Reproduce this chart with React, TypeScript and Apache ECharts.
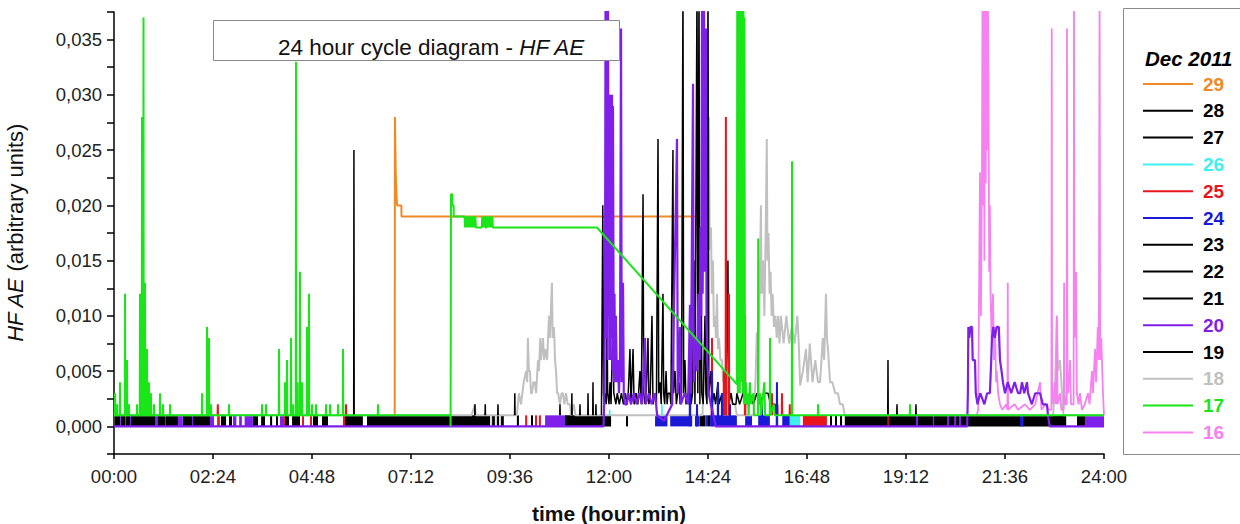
import React, { useEffect, useRef } from "react";
import * as echarts from "echarts";

const FONT = "'Liberation Sans', Arial, Helvetica, sans-serif";

// Legend (days of Dec 2011) and colours
const DAYS = ["29", "28", "27", "26", "25", "24", "23", "22", "21", "20", "19", "18", "17", "16"];
const DAY_COLORS: Record<string, string> = {
  "29": "#F08A24", "28": "#000000", "27": "#000000", "26": "#3FF0F0", "25": "#E8161C",
  "24": "#1A1AD6", "23": "#000000", "22": "#000000", "21": "#000000", "20": "#7F1FEA",
  "19": "#000000", "18": "#C0C0C0", "17": "#19E619", "16": "#F582F0",
};

// time axis in minutes since 00:00
const X_MIN = 0;
const X_MAX = 1440;
const X_STEP = 144;
const Y_MIN = -0.0025;
const Y_MAX = 0.0375;
const Y_STEP = 0.0025;

// ---- band intervals (value 0 .. 0.001), [startMin, endMin]
const BAND_28: [number, number][] = [
  [1.5, 8.7], [10, 16], [17.5, 23.3], [24.7, 59.6], [64, 93], [100, 139.6], [155.6, 163], [167.3, 171.6],
  [202, 209.5], [214, 219.6], [227, 230], [235.6, 238.5], [248.7, 254.5], [259, 270.5], [289.5, 296.7],
  [302.5, 311.3], [336, 362], [368, 547], [550, 554], [557, 560], [563, 567], [586, 589], [606.5, 609.5],
  [656, 723], [744.7, 747.6], [852.4, 859.6], [864, 867], [1041.5, 1044.4], [1048.7, 1051.6], [1056, 1059],
  [1063, 1385], [1400.7, 1412.3],
];
const BAND_20: [number, number][] = [
  [8.7, 10], [16, 17.5], [23.3, 24.7], [59.6, 64], [74, 75.5], [93, 100], [113.5, 115], [139.6, 145.5],
  [173, 178], [182, 186], [190, 202], [241.5, 247], [627, 656], [1166.5, 1169.5], [1191, 1193],
  [1211.6, 1214.5], [1222, 1225], [1229, 1232], [1412.3, 1441],
];
const BAND_25: [number, number][] = [
  [150, 154], [246, 248.7], [273.5, 276.4], [285, 288], [333, 336], [598, 601], [612.4, 615.3],
  [618, 621], [1002, 1037], [1125, 1127],
];
const BAND_24: [number, number][] = [
  [787, 805], [809, 841], [845, 852], [860, 864], [867, 906], [918, 928], [937, 954], [972, 983], [1318, 1323],
];
const BAND_26: [number, number][] = [[983, 998]];
const BAND_18: [number, number][] = [[548, 549.5], [555, 556.5], [561, 562.5]];

// ---- series values [minute, value]
const ORANGE_29: [number, number][] = [
  [408.3, 0.001], [408.6, 0.028], [409.6, 0.028], [409.8, 0.023], [410.6, 0.023], [410.8, 0.021],
  [411.6, 0.021], [411.8, 0.02], [418, 0.02], [418.2, 0.019], [845, 0.019],
];

const GREEN_17_EARLY: [number, number][] = [
  [1.5, 0.003], [4.4, 0.002], [8.7, 0.004], [16, 0.012], [18.9, 0.006], [21.8, 0.002], [33.5, 0.002],
  [37.8, 0.012], [40.7, 0.028], [42.9, 0.037], [45.1, 0.013], [48, 0.007], [50.9, 0.004], [53.8, 0.003],
  [58.2, 0.002], [66.9, 0.003], [71.3, 0.002], [81.5, 0.002], [128, 0.003], [135.3, 0.009], [138.2, 0.008],
  [141.1, 0.002], [167.3, 0.002], [215.3, 0.002], [221.1, 0.002], [240, 0.007], [248.7, 0.004],
  [251.6, 0.006], [257.5, 0.008], [260.4, 0.002], [264.7, 0.033], [266.9, 0.004], [270.5, 0.014],
  [273.5, 0.004], [280.7, 0.009], [283.6, 0.012], [288, 0.002], [293.8, 0.002], [308.4, 0.002],
  [314.2, 0.002], [325.8, 0.002], [333.1, 0.007], [384, 0.002],
];
const GREEN_17_MID: [number, number][] = [
  [489.4, 0.001], [489.6, 0], [490, 0], [490.2, 0.021], [492, 0.021], [492.2, 0.02], [494, 0.02],
  [494.2, 0.019], [510, 0.019], [510.5, 0.018], [511.5, 0.019], [512.5, 0.018], [513.5, 0.019],
  [514.5, 0.018], [515.5, 0.019], [516.5, 0.018], [517.5, 0.019], [518.5, 0.018], [519.5, 0.019],
  [520.5, 0.018], [521.5, 0.019], [522.5, 0.018], [523.5, 0.019], [524.5, 0.018], [525.5, 0.019],
  [526.5, 0.018], [535, 0.018], [535.5, 0.019], [536.5, 0.018], [537.5, 0.019], [538.5, 0.018],
  [539.5, 0.019], [540.5, 0.018], [542, 0.018], [542.5, 0.019], [543.5, 0.018], [544.5, 0.019],
  [545.5, 0.018], [546.5, 0.019], [547.5, 0.018], [548.5, 0.019], [549.5, 0.018], [550.5, 0.019],
  [551, 0.018], [702.5, 0.018], [906, 0.0038],
];
const GREEN_17_LATE: [number, number][] = [
  [906.5, 0.04], [907.3, 0.003], [908, 0.04], [908.8, 0.004], [909.5, 0.04], [910.3, 0.003], [911, 0.04],
  [911.8, 0.005], [912.5, 0.04], [913.3, 0.004], [914, 0.04], [914.8, 0.003], [915.5, 0.04], [916.3, 0.002],
  [917, 0.037], [917.8, 0.002], [919, 0.004], [920, 0.002], [922, 0.003], [923, 0.001], [925, 0.004],
  [926, 0.002], [930, 0.003], [931, 0.001], [936.6, 0.001], [937, 0.017], [937.4, 0.002], [940, 0.003],
  [941, 0.001], [946, 0.004], [947, 0.001], [953.8, 0.001], [954.2, 0.008], [954.6, 0.001], [960, 0.002],
  [961, 0.001], [985.9, 0.001], [986.2, 0.024], [986.5, 0.001], [1023.8, 0.001], [1024.1, 0.002],
  [1024.4, 0.001], [1157.5, 0.001], [1157.8, 0.002], [1158.1, 0.001], [1440, 0.001],
];

const GRAY_18: [number, number][] = [
  [0, 0.001], [520, 0.001], [525, 0.002], [526, 0.001], [586, 0.001], [589, 0.003], [592, 0.002],
  [596, 0.004], [599.3, 0.005], [601, 0.004], [602, 0.008], [603.5, 0.005], [605, 0.005], [606.5, 0.003],
  [608, 0.003], [610, 0.004], [612, 0.004], [614, 0.003], [616.7, 0.006], [618, 0.005], [620, 0.008],
  [621, 0.006], [624, 0.008], [625.5, 0.006], [628, 0.007], [630, 0.006], [632.7, 0.01], [634, 0.008],
  [637, 0.013], [638, 0.008], [640, 0.009], [641.5, 0.006], [643, 0.005], [644.5, 0.003], [646, 0.003],
  [648.7, 0.002], [651, 0.003], [653, 0.003], [655, 0.002], [657.5, 0.003], [660, 0.002], [663, 0.002],
  [665, 0.001], [669, 0.002], [671, 0.001], [856, 0.001], [859.6, 0.008], [861, 0.006], [862.5, 0.022],
  [863.5, 0.014], [865.5, 0.028], [866.5, 0.016], [868.4, 0.018], [869.5, 0.012], [871.3, 0.015],
  [872.5, 0.009], [874.2, 0.01], [875.5, 0.008], [877.1, 0.012], [878.5, 0.007], [880, 0.008],
  [882, 0.006], [884.4, 0.006], [886, 0.004], [888.8, 0.004], [892, 0.003], [896, 0.003], [900, 0.002],
  [903.3, 0.002], [906, 0.001], [930, 0.001], [933, 0.004], [935, 0.0085], [937, 0.006], [939, 0.012],
  [941, 0.02], [942, 0.012], [944, 0.015], [946, 0.01], [948, 0.018], [949.5, 0.026], [950.5, 0.015],
  [952, 0.0175], [953.5, 0.012], [955, 0.014], [956.5, 0.01], [958, 0.012], [960, 0.009], [962, 0.01],
  [964, 0.008], [966, 0.01], [968, 0.0075], [970, 0.01], [974, 0.0075], [978, 0.01], [982, 0.0075],
  [986, 0.009], [990, 0.0075], [994, 0.01], [996, 0.0075], [998, 0.0037], [1002, 0.005], [1006.5, 0.007],
  [1009, 0.004], [1012, 0.0075], [1016, 0.004], [1020, 0.006], [1024, 0.004], [1027, 0.004], [1031, 0.008],
  [1033, 0.006], [1035.6, 0.012], [1037, 0.008], [1038.5, 0.007], [1041.5, 0.004], [1045, 0.004],
  [1049, 0.003], [1053, 0.003], [1056, 0.002], [1060, 0.002], [1063, 0.001], [1366, 0.001], [1369, 0.004],
  [1371.6, 0.01], [1373, 0.005], [1376, 0.006], [1379, 0.003], [1381, 0.001], [1440, 0.001],
];

const BLACK_27: [number, number][] = [
  [709, 0.001], [711, 0.02], [712, 0.003], [713, 0.002], [714, 0.003], [716, 0.002], [717, 0.012],
  [718, 0.003], [720, 0.002], [721.5, 0.004], [723, 0.002], [725.8, 0.01], [727, 0.003], [730, 0.002],
  [732, 0.003], [735, 0.002], [738, 0.003], [741, 0.002], [744, 0.003], [746, 0.002], [748, 0.003],
  [750.5, 0.007], [752, 0.002], [755, 0.007], [756.5, 0.002], [759.3, 0.003], [762, 0.002], [765, 0.005],
  [767, 0.002], [769.5, 0.021], [770.5, 0.003], [772.4, 0.002], [774, 0.003], [776.7, 0.008], [778, 0.002],
  [780, 0.003], [782.5, 0.01], [784, 0.002], [787, 0.003], [789, 0.002], [791.3, 0.026], [792.3, 0.003],
  [794.2, 0.004], [796, 0.002], [798.5, 0.012], [799.5, 0.003], [801, 0.002], [803, 0.005], [804.5, 0.002],
  [806, 0.003], [808.7, 0.003], [810, 0.002], [813, 0.025], [814, 0.003], [816, 0.005], [818, 0.002],
  [821.8, 0.004], [823.5, 0.002], [825.5, 0.003], [827.6, 0.04], [828.6, 0.003], [830.5, 0.006],
  [832, 0.002], [834.9, 0.003], [836, 0.002], [837.8, 0.005], [839.5, 0.002], [841.5, 0.003],
  [843.6, 0.015], [845, 0.002], [848, 0.04], [849.2, 0.003], [850.9, 0.04], [852.2, 0.002], [853.8, 0.018],
  [855, 0.003], [857, 0.002], [859.6, 0.01], [861, 0.003], [862.5, 0.002], [864, 0.04], [865.2, 0.003],
  [868.4, 0.005], [870, 0.002], [872.7, 0.003], [875, 0.002], [878.5, 0.004], [880, 0.002], [884.4, 0.003],
  [886, 0.002], [888, 0.003], [890, 0.002], [893, 0.015], [894, 0.002], [897.5, 0.003], [900, 0.002],
  [904.7, 0.002], [906, 0.003], [910, 0.002], [915, 0.003], [920, 0.002], [925, 0.003], [930, 0.002],
  [935, 0.003], [939.6, 0.002], [945, 0.003], [951.3, 0.003], [955, 0.002], [961.5, 0.002], [963, 0.001],
];
const BLACK_23: [number, number][] = [
  [558.5, 0.002], [583, 0.003], [648.7, 0.002], [666, 0.003], [677.8, 0.002], [689.5, 0.003],
  [696.7, 0.004], [701, 0.002],
];
const BLACK_22: [number, number][] = [[525, 0.002], [540, 0.002], [1125.8, 0.006]];
const BLACK_21: [number, number][] = [[1138.9, 0.002], [1166.5, 0.002]];
const BLACK_19: [number, number][] = [[349, 0.025]];

const CYAN_26: [number, number][] = [[721, 0.0015], [797, 0.002]];
const RED_25: [number, number][] = [
  [151, 0.002], [337.5, 0.002], [869.8, 0.008], [887, 0.005], [890, 0.028], [894.5, 0.012], [918, 0.01],
  [957, 0.003], [965, 0.002], [971.6, 0.003], [983, 0.002],
];
const BLUE_24: [number, number][] = [
  [837.8, 0.01], [848, 0.002], [869.8, 0.005], [878.5, 0.004], [884.4, 0.003], [896, 0.002],
  [942.5, 0.002], [964.3, 0.004],
];

const PINK_16: [number, number][] = [
  [1255, 0.001], [1257, 0.0015], [1259.6, 0.023], [1261, 0.01], [1262.5, 0.023], [1263.3, 0.04],
  [1264, 0.02], [1265, 0.04], [1266, 0.015], [1267, 0.04], [1268, 0.022], [1269, 0.04], [1270, 0.025],
  [1271, 0.04], [1272, 0.031], [1273, 0.014], [1274, 0.02], [1275, 0.012], [1276.5, 0.008], [1278.5, 0.012],
  [1280, 0.006], [1281.5, 0.009], [1283, 0.004], [1284, 0.005], [1286, 0.003], [1288.7, 0.002],
  [1292, 0.0015], [1298, 0.002], [1299.5, 0.0015], [1300, 0.013], [1300.5, 0.0015], [1310, 0.002],
  [1315, 0.0015], [1325, 0.002], [1332, 0.0015], [1340, 0.002], [1347, 0.004], [1349, 0.0015],
  [1355, 0.002], [1360, 0.0015], [1363.5, 0.0015], [1364, 0.036], [1364.5, 0.003], [1366, 0.002],
  [1368.5, 0.004], [1370, 0.002], [1371.3, 0.01], [1372.5, 0.002], [1376, 0.003], [1378, 0.0015],
  [1381.5, 0.0015], [1382, 0.013], [1382.5, 0.003], [1384, 0.002], [1385.8, 0.002], [1386.2, 0.036],
  [1386.8, 0.004], [1388, 0.003], [1390.5, 0.006], [1392, 0.002], [1395.8, 0.002], [1396.4, 0.04],
  [1397, 0.008], [1398.5, 0.01], [1399.3, 0.014], [1400.5, 0.003], [1403, 0.002], [1405, 0.003],
  [1408, 0.0015], [1412, 0.002], [1416.7, 0.003], [1419, 0.002], [1422.5, 0.005], [1424, 0.003],
  [1427, 0.007], [1428.5, 0.004], [1431, 0.009], [1432.5, 0.006], [1433.6, 0.04], [1434.4, 0.006],
  [1436, 0.008], [1437, 0.006], [1438.5, 0.003], [1440, 0.001],
];

const PURPLE_20: [number, number][] = [
  [0, 0], [712, 0], [713, 0.002], [714.2, 0.012], [715, 0.04], [716, 0.008], [717, 0.04], [718, 0.006],
  [718.5, 0.04], [719.5, 0.01], [720.5, 0.03], [721.5, 0.006], [722.5, 0.03], [723.5, 0.008], [724.4, 0.03],
  [725.2, 0.005], [725.8, 0.029], [727, 0.004], [728, 0.012], [729, 0.004], [730, 0.01], [731.5, 0.004],
  [733, 0.006], [734.5, 0.003], [736, 0.006], [737.5, 0.036], [738.5, 0.004], [740.4, 0.013], [741.5, 0.003],
  [743.3, 0.002], [746, 0.002], [748, 0.003], [752, 0.002], [756, 0.003], [760, 0.002], [764, 0.003],
  [768, 0.002], [772.4, 0.008], [773.5, 0.002], [778, 0.003], [782, 0.002], [787, 0.003], [790, 0.001],
  [800, 0.0005], [812, 0.002], [818.9, 0.026], [820, 0.003], [823.3, 0.009], [824.5, 0.002], [830, 0.003],
  [835, 0.002], [837.8, 0.011], [839, 0.003], [842.2, 0.031], [843.2, 0.004], [846, 0.008], [848, 0.005],
  [850, 0.012], [852, 0.006], [853, 0.018], [854.3, 0.01], [855.3, 0.04], [856.2, 0.012], [857, 0.02],
  [858.2, 0.04], [859.2, 0.014], [860, 0.02], [861.1, 0.036], [862, 0.01], [863, 0.006], [865, 0.003],
  [868, 0.002], [872, 0.001], [875, 0], [1241, 0], [1242, 0.003], [1242.7, 0.009], [1244, 0.008],
  [1246, 0.009], [1248, 0.009], [1249, 0.006], [1252.3, 0.006], [1253.5, 0.003], [1256, 0.002],
  [1260, 0.003], [1266, 0.002], [1270, 0.003], [1274, 0.003], [1276, 0.006], [1277, 0.008], [1279, 0.009],
  [1281, 0.008], [1284, 0.009], [1287, 0.009], [1288.7, 0.006], [1291, 0.005], [1293, 0.004], [1296, 0.003],
  [1300, 0.004], [1305, 0.003], [1310, 0.004], [1315, 0.003], [1318, 0.003], [1320.7, 0.004], [1324, 0.003],
  [1328, 0.004], [1329.5, 0.003], [1335, 0.002], [1340, 0.003], [1347, 0.003], [1351, 0.002], [1357, 0.002],
  [1358.5, 0.001], [1361, 0], [1440, 0],
];

// spikes joined along a baseline
function peaks(base: number, list: [number, number][]) {
  const out: any[] = [];
  for (const [t, v] of list) out.push([t - 0.35, base], [t, v], [t + 0.35, base]);
  return out;
}
// isolated spikes (line broken between them)
function isolated(base: number, list: [number, number][]) {
  const out: any[] = [];
  for (const [t, v] of list) out.push([t - 0.35, base], [t, v], [t + 0.35, base], [t + 0.4, "-"]);
  return out;
}

function fmtTime(v: number) {
  const h = Math.floor(v / 60);
  const m = Math.round(v - h * 60);
  return String(h).padStart(2, "0") + ":" + String(m).padStart(2, "0");
}
function fmtY(v: number) {
  if (v < -1e-9) return "";
  const k = v / 0.005;
  if (Math.abs(k - Math.round(k)) > 1e-6) return "";
  return v.toFixed(3).replace(".", ",");
}

function bandSeries(name: string, intervals: [number, number][]) {
  return {
    type: "line",
    name,
    data: [],
    symbol: "none",
    itemStyle: { color: DAY_COLORS[name] },
    lineStyle: { color: DAY_COLORS[name] },
    markArea: {
      silent: true,
      label: { show: false },
      itemStyle: { color: DAY_COLORS[name], opacity: 1 },
      emphasis: { disabled: true },
      data: intervals.map(([a, b]) => [{ xAxis: a, yAxis: 0 }, { xAxis: b, yAxis: 0.001 }]),
    },
  };
}

function lineSeries(name: string, data: any[], width = 1.5) {
  return {
    type: "line",
    name,
    data,
    symbol: "none",
    showSymbol: false,
    clip: true,
    silent: true,
    emphasis: { disabled: true },
    itemStyle: { color: DAY_COLORS[name] },
    lineStyle: { color: DAY_COLORS[name], width },
  };
}

export default function App() {
  const ref = useRef<HTMLDivElement>(null);
  useEffect(() => {
    if (!ref.current) return;
    const chart = echarts.init(ref.current, undefined, { renderer: "svg" });
    const series: any[] = [
      bandSeries("28", BAND_28),
      bandSeries("20", BAND_20),
      bandSeries("25", BAND_25),
      bandSeries("24", BAND_24),
      bandSeries("26", BAND_26),
      bandSeries("18", BAND_18),
      lineSeries("18", GRAY_18, 2),
      lineSeries("29", ORANGE_29, 2),
      lineSeries("27", BLACK_27, 1.5),
      lineSeries("23", isolated(0.001, BLACK_23)),
      lineSeries("22", isolated(0.001, BLACK_22)),
      lineSeries("21", isolated(0.001, BLACK_21)),
      lineSeries("19", isolated(0.001, BLACK_19)),
      lineSeries("26", isolated(0.001, CYAN_26)),
      lineSeries("25", isolated(0.001, RED_25), 2),
      lineSeries("24", isolated(0, BLUE_24), 2),
      lineSeries("16", PINK_16, 1.8),
      lineSeries("20", PURPLE_20, 2.2),
      lineSeries("17", [[0, 0.001], ...peaks(0.001, GREEN_17_EARLY), ...GREEN_17_MID, ...GREEN_17_LATE], 2),
    ];
    chart.setOption({
      animation: false,
      backgroundColor: "#ffffff",
      textStyle: { fontFamily: FONT },
      grid: { left: 114, right: 136, top: 12, bottom: 70, containLabel: false, outerBoundsMode: "none" },
      xAxis: {
        type: "value",
        min: X_MIN,
        max: X_MAX,
        interval: X_STEP,
        name: "time (hour:min)",
        nameLocation: "middle",
        nameGap: 49,
        nameTextStyle: { fontSize: 21, fontWeight: "bold", color: "#111", fontFamily: FONT },
        axisLine: { onZero: false, lineStyle: { color: "#000", width: 1.5 } },
        axisTick: { length: 5, lineStyle: { color: "#000", width: 1.5 } },
        axisLabel: { formatter: fmtTime, fontSize: 18.5, color: "#222", margin: 13, fontFamily: FONT },
        splitLine: { show: false },
      },
      yAxis: {
        type: "value",
        min: Y_MIN,
        max: Y_MAX,
        interval: Y_STEP,
        name: "{i|HF AE} (arbitrary units)",
        nameLocation: "middle",
        nameRotate: 90,
        nameGap: 88,
        nameTextStyle: {
          fontSize: 22,
          color: "#111",
          fontFamily: FONT,
          rich: { i: { fontSize: 22, fontStyle: "italic", color: "#111", fontFamily: FONT } },
        },
        axisLine: { onZero: false, lineStyle: { color: "#000", width: 1.5 } },
        axisTick: { length: 7, lineStyle: { color: "#000", width: 1.5 } },
        axisLabel: { formatter: fmtY, fontSize: 18.5, color: "#222", margin: 12, fontFamily: FONT },
        splitLine: { show: false },
      },
      legend: {
        orient: "vertical",
        left: 1143,
        top: 74,
        padding: 0,
        itemWidth: 50,
        itemHeight: 2,
        itemGap: 6.8,
        icon: "rect",
        selectedMode: false,
        textStyle: { fontSize: 19, fontWeight: "bold", fontFamily: FONT, lineHeight: 20, padding: [0, 0, 0, 5] },
        data: DAYS.map((d) => ({ name: d, textStyle: { color: DAY_COLORS[d] } })),
      },
      graphic: [
        {
          type: "rect",
          z: 100,
          shape: { x: 213.5, y: 20.5, width: 406, height: 40 },
          style: { fill: "#ffffff", stroke: "#8a8a8a", lineWidth: 1 },
        },
        {
          type: "text",
          z: 101,
          x: 278,
          y: 47,
          style: {
            text: "{n|24 hour cycle diagram - }{i|HF AE}",
            verticalAlign: "middle",
            rich: {
              n: { fontSize: 22.5, fontFamily: FONT, fill: "#111", color: "#111" },
              i: { fontSize: 22.5, fontFamily: FONT, fontStyle: "italic", fill: "#111", color: "#111" },
            },
          },
        },
        {
          type: "rect",
          z: 100,
          shape: { x: 1123.5, y: 8.5, width: 130, height: 446 },
          style: { fill: "none", stroke: "#8a8a8a", lineWidth: 1 },
        },
        {
          type: "text",
          z: 101,
          x: 1145,
          y: 58,
          style: {
            text: "Dec 2011",
            fontSize: 20.5,
            fontWeight: "bold",
            fontStyle: "italic",
            fontFamily: FONT,
            fill: "#000",
            verticalAlign: "middle",
          },
        },
      ],
      series,
    });
    return () => chart.dispose();
  }, []);
  return <div ref={ref} style={{ position: "absolute", left: 0, top: 0, width: 1240, height: 524 }} />;
}
